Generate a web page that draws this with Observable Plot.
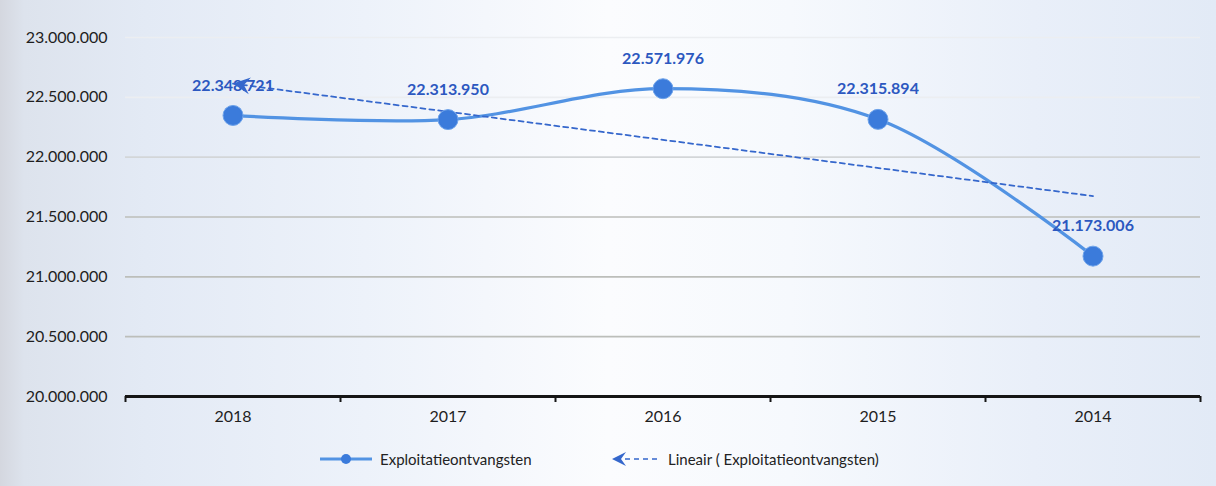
<!DOCTYPE html>
<html><head><meta charset="utf-8">
<script src="https://cdn.jsdelivr.net/npm/d3@7"></script>
<script src="https://cdn.jsdelivr.net/npm/@observablehq/plot@0.6"></script>
<style>
html,body{margin:0;padding:0;}
body{width:1216px;height:486px;overflow:hidden;font-family:Lato,sans-serif;
background:linear-gradient(90deg,#d4d7df 0%,#dde3ed 2%,#e3eaf5 12%,#edf2fa 30%,#fbfcfe 50%,#f6f9fd 65%,#e9eff9 85%,#e2eaf6 100%);}
#legend{height:46px;display:flex;align-items:center;font-size:15px;color:#222;position:relative;}
#legend .item{position:absolute;display:flex;align-items:center;top:10px;}
#legend svg{margin-right:6px;}
</style></head><body>
<div id="chart"></div>
<div id="legend"></div>
<script>
const years = ["2018", "2017", "2016", "2015", "2014"];
const values = [22348721, 22313950, 22571976, 22315894, 21173006];
const yTicks = [20000000, 20500000, 21000000, 21500000, 22000000, 22500000, 23000000];
const seriesName = "Exploitatieontvangsten";
const trendName = "Lineair ( Exploitatieontvangsten)";

const data = years.map((y, i) => ({i, year: y, v: values[i]}));

// least-squares trend line over the series
const n = values.length;
const mx = d3.mean(data, d => d.i), my = d3.mean(values);
const slope = d3.sum(data, d => (d.i - mx) * (d.v - my)) / d3.sum(data, d => (d.i - mx) ** 2);
const icpt = my - slope * mx;
const trend = [0, n - 1].map(i => ({i, v: icpt + slope * i}));

const W = 1216, H = 440, mL = 125, mR = 16, mT = 37, mB = 44;
const fmt = d3.formatLocale({decimal: ",", thousands: ".", grouping: [3], currency: ["", ""]}).format(",d");

// pixel direction of the trend line, for the arrowhead
const pxX = (W - mL - mR) / 5, pxY = (H - mT - mB) / (yTicks[yTicks.length - 1] - yTicks[0]);
const ang = Math.atan2(-slope * pxY, pxX) * 180 / Math.PI;
const arrowRot = 180 + ang;

const arrowSym = {
  draw(ctx, size) {
    const r = Math.sqrt(size / Math.PI);
    ctx.moveTo(0, 0);
    ctx.lineTo(-1.7 * r, -0.85 * r);
    ctx.lineTo(-1.1 * r, 0);
    ctx.lineTo(-1.7 * r, 0.85 * r);
    ctx.closePath();
  }
};

const blue = "#3b7bdb", lineBlue = "#5293e3", trendBlue = "#3567cc", labelBlue = "#2c58c0";

const chart = Plot.plot({
  width: W, height: H,
  marginLeft: mL, marginRight: mR, marginTop: mT, marginBottom: mB,
  style: {background: "transparent", fontFamily: "Lato, sans-serif", overflow: "visible"},
  x: {domain: [-0.5, 4.5], axis: null},
  y: {domain: [yTicks[0], yTicks[yTicks.length - 1]], axis: null},
  marks: [
    Plot.ruleY(yTicks.slice(5), {stroke: "#eceef1", strokeWidth: 1.6}),
    Plot.ruleY(yTicks.slice(4, 5), {stroke: "#d3d6d8", strokeWidth: 1.6}),
    Plot.ruleY(yTicks.slice(1, 4), {stroke: "#bcbeba", strokeWidth: 1.6}),
    Plot.axisY(yTicks, {label: null, tickSize: 0, tickPadding: 18, tickFormat: fmt, fontSize: 16, fill: "#1e1e1e"}),
    Plot.ruleY([yTicks[0]], {stroke: "#151515", strokeWidth: 3}),
    Plot.axisX(d3.range(-0.5, 5, 1), {label: null, tickSize: 6, tickFormat: () => "", stroke: "#151515", strokeWidth: 2}),
    Plot.axisX(d3.range(5), {label: null, tickSize: 0, tickPadding: 14, tickFormat: i => years[i], fontSize: 16, fill: "#1e1e1e"}),
    Plot.line(data, {x: "i", y: "v", curve: "catmull-rom", stroke: lineBlue, strokeWidth: 3.2}),
    Plot.line(trend, {x: "i", y: "v", stroke: trendBlue, strokeWidth: 1.8, strokeDasharray: "5,4"}),
    Plot.dot(data, {x: "i", y: "v", r: 10, fill: blue, stroke: "#6ea3ea", strokeWidth: 1}),
    Plot.text(data, {x: "i", y: "v", text: d => fmt(d.v), dy: -30, fill: labelBlue, fontWeight: "bold", fontSize: 16}),
    Plot.dot([trend[0]], {x: "i", y: "v", symbol: arrowSym, r: 10, fill: trendBlue, rotate: arrowRot})
  ]
});
document.getElementById("chart").appendChild(chart);

const legend = document.getElementById("legend");
legend.innerHTML = `
<div class="item" style="left:318px">
  <svg width="56" height="16"><line x1="2" y1="8" x2="54" y2="8" stroke="${lineBlue}" stroke-width="3"/><circle cx="28" cy="8" r="5" fill="${blue}"/></svg>
  <span>${seriesName}</span></div>
<div class="item" style="left:610px">
  <svg width="52" height="18"><line x1="6" y1="9" x2="50" y2="9" stroke="${trendBlue}" stroke-width="1.7" stroke-dasharray="5,4"/><path d="M2,9 L16,2 L11,9 L16,16 Z" fill="${trendBlue}"/></svg>
  <span>${trendName}</span></div>`;
</script>
</body></html>
